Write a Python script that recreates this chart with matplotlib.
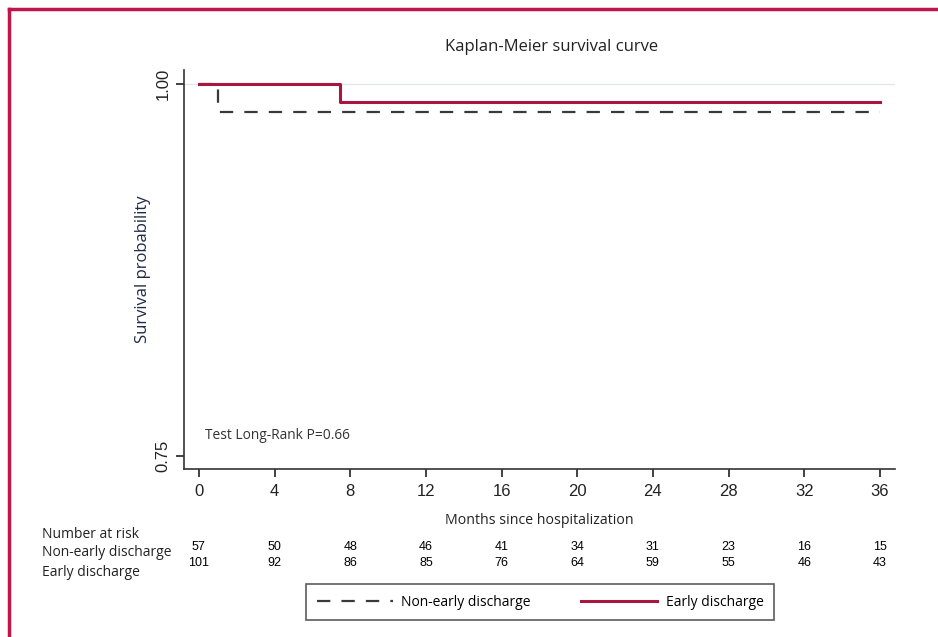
import matplotlib
matplotlib.use("Agg")
import matplotlib.pyplot as plt
from matplotlib.lines import Line2D
from matplotlib.transforms import blended_transform_factory

# data
months_nonearly = [0, 1.0, 36]
surv_nonearly = [1.0, 0.981, 0.981]
months_early = [0, 7.45, 36]
surv_early = [1.0, 0.988, 0.988]

risk_times = [0, 4, 8, 12, 16, 20, 24, 28, 32, 36]
risk_nonearly = [57, 50, 48, 46, 41, 34, 31, 23, 16, 15]
risk_early = [101, 92, 86, 85, 76, 64, 59, 55, 46, 43]

CRIMSON = "#A8173F"
DARK = "#3a3a3a"
TXT = "Open Sans"

W, H = 938, 637
fig = plt.figure(figsize=(W / 100, H / 100), dpi=100)

def fx(px):
    return px / W

def fy(py):
    return 1 - py / H

ax = fig.add_axes([fx(184), fy(469), fx(895) - fx(184), fy(70) - fy(469)])

ax.axhline(1.0, color="#e3e6ec", linewidth=1, zorder=0)
ax.step(months_nonearly, surv_nonearly, where="post", color=DARK,
        linewidth=1.6, dashes=(6, 5), label="Non-early discharge")
ax.step(months_early, surv_early, where="post", color=CRIMSON,
        linewidth=2.2, label="Early discharge")

ax.set_xlim(-0.79, 36.8)
ax.set_ylim(0.741, 1.0094)
ax.set_xticks(risk_times)
ax.set_yticks([0.75, 1.00])
ax.set_yticklabels(["0.75", "1.00"], rotation=90, va="center")
ax.tick_params(axis="both", labelsize=12, length=6, width=1.2, colors="#222222",
               labelfontfamily="Liberation Sans")
ax.tick_params(axis="x", pad=5)
for s in ["top", "right"]:
    ax.spines[s].set_visible(False)
for s in ["left", "bottom"]:
    ax.spines[s].set_linewidth(1.2)
    ax.spines[s].set_color("#333333")

ax.set_xlabel("Months since hospitalization", fontsize=10.2, family=TXT,
              color="#222222", labelpad=10)
ax.set_ylabel("Survival probability", fontsize=12, family=TXT,
              color="#1f2a44", labelpad=3.5)
fig.text(fx(552), fy(47), "Kaplan-Meier survival curve", fontsize=12,
         family=TXT, ha="center", va="center", color="#222222")
ax.text(0.3, 0.7634, "Test Long-Rank P=0.66", fontsize=9.9, family=TXT,
        color="#333333", va="center")

# number at risk table
tr = blended_transform_factory(ax.transData, fig.transFigure)
for t, a, b in zip(risk_times, risk_nonearly, risk_early):
    ax.text(t, fy(547), str(a), transform=tr, ha="center", va="center",
            fontsize=9, family="Liberation Sans", clip_on=False)
    ax.text(t, fy(563), str(b), transform=tr, ha="center", va="center",
            fontsize=9, family="Liberation Sans", clip_on=False)
for y, lab in zip([535, 553, 572], ["Number at risk", "Non-early discharge", "Early discharge"]):
    fig.text(fx(42), fy(y), lab, fontsize=10, family=TXT, va="center",
             color="#222222")

# legend
leg = fig.legend(handles=ax.get_lines()[1:], loc="center",
                 bbox_to_anchor=(fx(540), fy(602)), ncol=2, frameon=True,
                 fancybox=False, edgecolor="#333333", handlelength=5.5,
                 handletextpad=0.6, columnspacing=3.6, borderpad=0.75,
                 borderaxespad=0, prop={"family": TXT, "size": 10})
leg.get_frame().set_linewidth(1.2)

# page border
fig.add_artist(Line2D([fx(9), fx(9)], [0, fy(9)], color="#C0154A", linewidth=2.5))
fig.add_artist(Line2D([fx(9), 1], [fy(9), fy(9)], color="#C0154A", linewidth=2.5))

fig.savefig("out.png", dpi=100)
